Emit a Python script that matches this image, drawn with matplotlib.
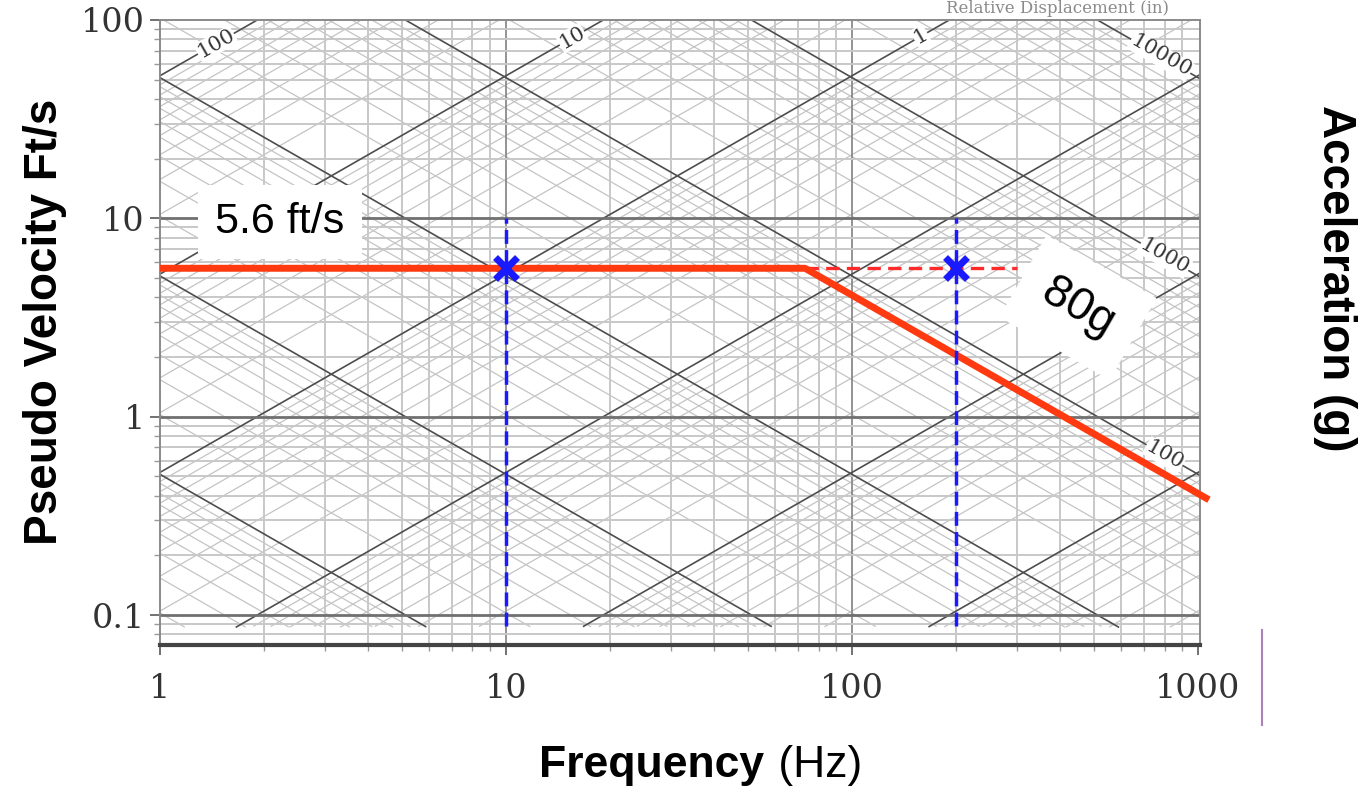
import numpy as np
import matplotlib
matplotlib.use("Agg")
import matplotlib.pyplot as plt
from matplotlib.lines import Line2D

# Tripartite shock spectrum: pseudo velocity (ft/s) vs frequency (Hz),
# with constant acceleration (g) and relative displacement (in) diagonals.
G_FTS2 = 32.174

# spec: flat velocity plateau, then constant acceleration roll-off
plateau_velocity = 5.6      # ft/s
rolloff_accel = 80          # g
spec_f_start = 1.0
spec_f_end = 1075.0
dashed_f_end = 300.0

marker_freqs = [10, 200]
marker_v_top = 10
marker_v_bottom = 0.088

accel_decades = [-2, -1, 0, 1, 2, 3, 4]
disp_decades = [-4, -3, -2, -1, 0, 1, 2]
multipliers = [1, 2, 3, 4, 5, 6, 7, 8, 9]

accel_labels = [(10000, 780), (1000, 800), (100, 800)]   # (g, freq where label sits)
disp_labels = [(100, 1.45), (10, 15.5), (1, 158)]        # (in, freq where label sits)

x_ticks = [1, 10, 100, 1000]
y_ticks = [0.1, 1, 10, 100]
y_tick_labels = ["0.1", "1", "10", "100"]

V_MIN_DIAG = 0.087

fig = plt.figure(figsize=(13.64, 7.92), dpi=100)
W, H = 1364, 792
ax = fig.add_axes([160 / W, 1 - 645 / H, 1040 / W, 625 / H])
ax.set_xscale("log")
ax.set_yscale("log")
ax.set_xlim(1, 1013)
ax.set_ylim(0.0706, 100)

f = np.logspace(0, np.log10(1013), 600)


def clip(v):
    v = v.copy()
    v[(v < V_MIN_DIAG) | (v > 100)] = np.nan
    return v


# constant acceleration lines (descending)
for n in accel_decades:
    for k in multipliers:
        a = k * 10.0 ** n
        v = clip(a * G_FTS2 / (2 * np.pi * f))
        if k == 1:
            ax.plot(f, v, color="#4d4d4d", lw=1.2, zorder=2)
        else:
            ax.plot(f, v, color="#c4c4c4", lw=0.9, zorder=1)

# constant displacement lines (ascending)
for n in disp_decades:
    for k in multipliers:
        d = k * 10.0 ** n
        v = clip(2 * np.pi * f * d / 12.0)
        if k == 1:
            ax.plot(f, v, color="#4d4d4d", lw=1.2, zorder=2)
        else:
            ax.plot(f, v, color="#c4c4c4", lw=0.9, zorder=1)

# log grid
for dec in [1, 10, 100]:
    for k in range(2, 10):
        ax.axvline(dec * k, color="#c8c8c8", lw=1.4, zorder=1)
ax.axvline(10, color="#8a8a8a", lw=1.3, zorder=1)
ax.axvline(100, color="#8a8a8a", lw=1.3, zorder=1)
for dec in [0.01, 0.1, 1, 10]:
    for k in range(2, 10):
        yv = dec * k
        if 0.0706 < yv < 100:
            ax.axhline(yv, color="#c8c8c8", lw=1.4, zorder=1)
for yv in [0.1, 1, 10]:
    ax.axhline(yv, color="#707070", lw=2.0, zorder=2)

for side in ["top", "left", "right"]:
    ax.spines[side].set_color("#8a8a8a")
    ax.spines[side].set_linewidth(1.4)
ax.spines["bottom"].set_color("#444444")
ax.spines["bottom"].set_linewidth(3)

ax.set_xticks(x_ticks)
ax.set_xticklabels([str(t) for t in x_ticks])
ax.set_yticks(y_ticks)
ax.set_yticklabels(y_tick_labels)
ax.tick_params(which="major", direction="out", length=7, width=1.3, color="#666666",
               labelsize=24, labelcolor="#333333", pad=4)
ax.tick_params(axis="x", which="major", pad=13)
ax.tick_params(which="minor", direction="out", length=4, width=1, color="#999999",
               labelleft=False, labelbottom=False)
for lab in ax.get_xticklabels() + ax.get_yticklabels():
    lab.set_family("DejaVu Serif")

# diagonal labels
fig.canvas.draw()
p0 = ax.transData.transform((1, 1))
p1 = ax.transData.transform((10, 10))
ang = np.degrees(np.arctan2(p1[1] - p0[1], p1[0] - p0[0]))
for d, fl in disp_labels:
    ax.text(fl, 2 * np.pi * fl * d / 12.0, str(d), rotation=ang, rotation_mode="anchor",
            ha="center", va="center", fontsize=15, family="DejaVu Serif", color="#333333",
            bbox=dict(facecolor="white", edgecolor="none", pad=0.5), zorder=3)
for a, fl in accel_labels:
    ax.text(fl, a * G_FTS2 / (2 * np.pi * fl), str(a), rotation=-ang, rotation_mode="anchor",
            ha="center", va="center", fontsize=15, family="DejaVu Serif", color="#333333",
            bbox=dict(facecolor="white", edgecolor="none", pad=0.5), zorder=3)

# spec line
f_knee = rolloff_accel * G_FTS2 / (2 * np.pi * plateau_velocity)
spec_f = [spec_f_start, f_knee, spec_f_end]
spec_v = [plateau_velocity, plateau_velocity,
          rolloff_accel * G_FTS2 / (2 * np.pi * spec_f_end)]
ax.plot(spec_f, spec_v, color="#ff3a10", lw=5, solid_capstyle="butt", zorder=6,
        clip_on=False)
ax.plot([f_knee, dashed_f_end], [plateau_velocity, plateau_velocity], color="#ff2a2a",
        lw=2.4, ls=(0, (4, 2.2)), zorder=5)

# marker lines
for fm in marker_freqs:
    ax.plot([fm, fm], [marker_v_bottom, marker_v_top], color="#1a1aff", lw=2.5,
            ls=(0, (4, 1.8)), zorder=7)
    ax.plot(fm, plateau_velocity, marker="x", color="#1a1aff", ms=16, mew=5, zorder=8)

ax.text(2.22, 9.6, "5.6 ft/s", fontsize=31, family="Liberation Sans", color="black",
        ha="center", va="center", zorder=9,
        bbox=dict(facecolor="white", edgecolor="none", boxstyle="square,pad=0.4"))
ax.text(450, 3.55, "80g", fontsize=33, family="Liberation Sans", color="black",
        rotation=-ang, ha="center", va="center", rotation_mode="anchor", zorder=9,
        bbox=dict(facecolor="white", edgecolor="none", boxstyle="square,pad=0.55"))

# axis titles
fig.text(45 / W, 1 - 322 / H, "Pseudo Velocity Ft/s", rotation=90, fontsize=33,
         fontweight="bold", family="Liberation Sans", ha="center", va="center")
fig.text(1335 / W, 1 - 278 / H, "Acceleration (g)", rotation=-90, fontsize=33,
         fontweight="bold", family="Liberation Sans", ha="center", va="center")
fig.text(764 / W, 1 - 765 / H, "Frequency", fontsize=32, fontweight="bold",
         family="Liberation Sans", ha="right", va="center")
fig.text(766 / W, 1 - 765 / H, " (Hz)", fontsize=32, family="Liberation Sans",
         ha="left", va="center")
fig.text(1058 / W, 1 - 13 / H, "Relative Displacement (in)", fontsize=12,
         family="DejaVu Serif", color="#8a8a8a", ha="center", va="baseline")

fig.add_artist(Line2D([1262 / W, 1262 / W], [1 - 630 / H, 1 - 725 / H],
                      color="#a884b8", lw=1.5))

fig.savefig("out.png", dpi=100)
